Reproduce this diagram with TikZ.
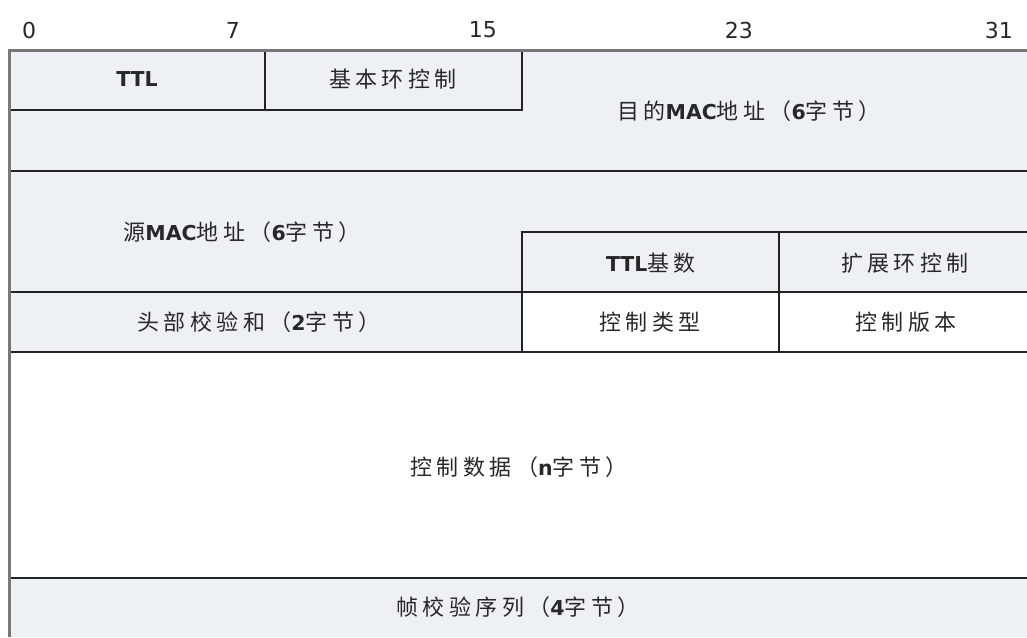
\documentclass[tikz,border=0pt]{standalone}
\usepackage{fontspec}
\setmainfont{DejaVu Sans}
\newfontfamily\cjk[LetterSpace=20]{Noto Sans CJK SC}
\newfontfamily\lat{DejaVu Sans}
\definecolor{fieldbg}{RGB}{237,240,245}
\definecolor{linec}{RGB}{35,35,35}
\definecolor{borderc}{RGB}{120,120,120}
\definecolor{txt}{RGB}{40,40,40}
\newcommand\lb[1]{{\lat\bfseries\fontsize{20.5}{24}\selectfont #1}}
\begin{document}
\begin{tikzpicture}[x=1pt,y=-1pt,
  lab/.style={font={\cjk\fontsize{22}{26}\selectfont}, text=txt, inner sep=0pt, anchor=center},
  num/.style={font={\lat\fontsize{22}{26}\selectfont}, text=txt, inner sep=0pt},
  rule/.style={draw=linec, line width=2pt},
  border/.style={draw=borderc, line width=3pt}]
\useasboundingbox (0,0) rectangle (1027,637);
\fill[white] (0,0) rectangle (1027,637);
\fill[fieldbg] (9,50) rectangle (1027,352);
\fill[white] (522,292) rectangle (1027,352);
\fill[fieldbg] (9,578) rectangle (1027,637);
% field boundaries
\draw[rule] (9,50) rectangle (265,110);
\draw[rule] (265,50) rectangle (522,110);
\draw[rule] (9,171) -- (1027,171);
\draw[rule] (522,352) -- (522,232) -- (1027,232);
\draw[rule] (779,232) -- (779,352);
\draw[rule] (9,292) -- (1027,292);
\draw[rule] (9,352) -- (1027,352);
\draw[rule] (9,578) -- (1027,578);
\draw[border] (9,637) -- (9,50) -- (1027,50);
% bit numbers
\node[num, anchor=west] (b0) at (22,30) {0};
\node[num, anchor=east] (b7) at (240,30) {7};
\node[num, anchor=east] (b15) at (497,30) {15};
\node[num, anchor=east] (b23) at (753,30) {23};
\node[num, anchor=east] (b31) at (1013,30) {31};
% field labels
\node[lab] (ttl) at (137,79) {\lb{TTL}};
\node[lab] (basic) at (393,79) {基本环控制};
\node[lab] (dmac) at (749,111) {目的\lb{MAC}地址（\lb{6}字节）};
\node[lab] (smac) at (242,232) {源\lb{MAC}地址（\lb{6}字节）};
\node[lab] (ttlbase) at (651,263) {\lb{TTL}基数};
\node[lab] (ext) at (905,263) {扩展环控制};
\node[lab] (hcs) at (259,322) {头部校验和（\lb{2}字节）};
\node[lab] (ctype) at (650,322) {控制类型};
\node[lab] (cver) at (906,322) {控制版本};
\node[lab] (cdata) at (519,467) {控制数据（\lb{n}字节）};
\node[lab] (fcs) at (518,607) {帧校验序列（\lb{4}字节）};
\end{tikzpicture}
\end{document}
